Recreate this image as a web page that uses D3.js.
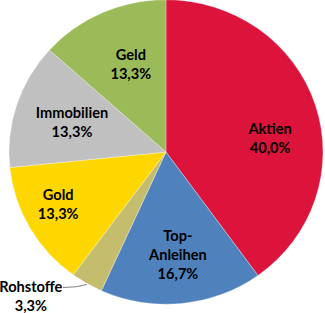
<!DOCTYPE html>
<html>
<head>
<meta charset="utf-8">
<script src="https://cdn.jsdelivr.net/npm/d3@7"></script>
<style>
  body { margin: 0; background: #fff; }
  text { font-family: Lato, "Noto Sans", sans-serif; font-weight: bold; font-size: 14.6px; fill: #000; }
</style>
</head>
<body>
<svg class="chart" width="325" height="313"></svg>
<script>
// data, clockwise from 12 o'clock
var categories = ["Aktien", "Top-Anleihen", "Rohstoffe", "Gold", "Immobilien", "Geld"];
var shares = [40.0, 16.7, 3.3, 13.3, 13.3, 13.3];
var labelLines = [["Aktien"], ["Top-", "Anleihen"], ["Rohstoffe"], ["Gold"], ["Immobilien"], ["Geld"]];
var colors = ["#DC143C", "#4F81BD", "#C4BD6E", "#FFD700", "#C0C0C0", "#9BBB59"];

var width = 325, height = 313,
    cx = 166, cy = 152,
    radius = 157,
    squash = 0.97,   // picture is a bit flatter than round
    lineHeight = 19;

// small nudges so labels sit like the original
var nudge = {
  "Aktien": [10, 16], "Top-Anleihen": [2, 7], "Gold": [-22, 5],
  "Immobilien": [0, 0], "Geld": [5, 0]
};

var data = categories.map(function(c, i) {
  return {name: c, value: shares[i], lines: labelLines[i], color: colors[i]};
});

var pie = d3.pie().sort(null).value(function(d) { return d.value; });
var arc = d3.arc().innerRadius(0).outerRadius(radius);
var labelArc = d3.arc().innerRadius(radius * 0.63).outerRadius(radius * 0.63);

var chart = d3.select(".chart");

var slices = chart.append("g")
    .attr("transform", "translate(" + cx + "," + cy + ") scale(1," + squash + ")");

var arcs = pie(data);

slices.selectAll("path")
    .data(arcs)
    .enter().append("path")
    .attr("d", arc)
    .attr("fill", function(d) { return d.data.color; })
    .attr("stroke", "rgba(255,255,255,0.5)")
    .attr("stroke-width", 0.6);

var labels = chart.append("g")
    .attr("transform", "translate(" + cx + "," + cy + ")");

var fmt = function(v) { return v.toFixed(1).replace(".", ",") + "%"; };

arcs.forEach(function(d) {
  var name = d.data.name;
  var g, lines = d.data.lines.concat([fmt(d.data.value)]);
  var mid = (d.startAngle + d.endAngle) / 2;

  if (name === "Rohstoffe") {
    // outside label with leader line
    var ex = Math.sin(mid) * radius, ey = -Math.cos(mid) * radius * squash;
    labels.append("path")
      .attr("d", "M" + ex + "," + (ey + 1) + " Q" + (ex - 10) + "," + (ey + 4) + " " + (ex - 24) + "," + (ey + 4))
      .attr("fill", "none")
      .attr("stroke", "#7f7f7f")
      .attr("stroke-width", 1);
    g = labels.append("text")
      .attr("text-anchor", "middle")
      .attr("transform", "translate(" + (ex - 56) + "," + (ey + 13) + ")");
  } else {
    var c = labelArc.centroid(d), n = nudge[name] || [0, 0];
    g = labels.append("text")
      .attr("text-anchor", "middle")
      .attr("transform", "translate(" + (c[0] + n[0]) + "," + (c[1] * squash + n[1]) + ")");
  }

  var top = -(lines.length - 1) * lineHeight / 2;
  g.selectAll("tspan")
    .data(lines)
    .enter().append("tspan")
    .attr("x", 0)
    .attr("y", function(t, i) { return top + i * lineHeight; })
    .attr("dy", ".35em")
    .text(function(t) { return t; });
});
</script>
</body>
</html>
